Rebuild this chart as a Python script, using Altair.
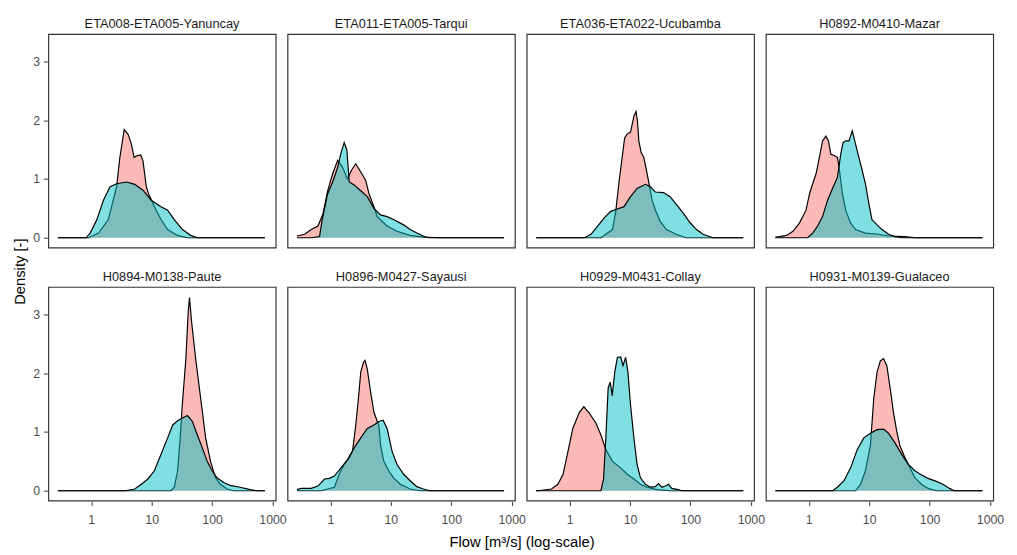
import altair as alt
import pandas as pd

PANELS = [
    "ETA008-ETA005-Yanuncay", "ETA011-ETA005-Tarqui", "ETA036-ETA022-Ucubamba",
    "H0892-M0410-Mazar", "H0894-M0138-Paute", "H0896-M0427-Sayausi",
    "H0929-M0431-Collay", "H0931-M0139-Gualaceo",
]
GROUPS = ["Series 1", "Series 2"]
COLORS = ["#F8766D", "#00BFC4"]

# common evaluation range of the densities (flow, m3/s)
FLOW_START = 0.28
FLOW_END = 750

# ---- series 1 (red) : flow values and densities per panel
RED_X = [
    [0.90, 1.32, 1.92, 2.63, 2.98, 3.51, 4.08, 4.63, 5.12, 5.81, 6.58, 7.19, 8.15, 8.90, 11.1, 14.3, 18.4, 26.9, 39.2],
    [0.375, 0.483, 0.621, 0.75, 0.90, 1.09, 1.32, 1.59, 1.92, 2.23, 2.63, 3.18, 3.83, 4.35, 5.25, 5.96, 8.67, 12.6, 20.9, 34.5, 64.8],
    [3.30, 3.98, 5.12, 5.81, 6.58, 8.15, 9.01, 10.2, 11.6, 12.6, 13.3, 14.0, 15.3, 16.9, 18.7, 21.1, 23.2, 26.4, 31.6, 40.0, 58.0, 85.0],
    [0.33, 0.43, 0.547, 0.70, 0.90, 1.03, 1.16, 1.32, 1.50, 1.69, 1.92, 2.12, 2.32, 2.63, 2.98, 3.18, 3.60, 4.08, 4.93, 5.96, 8.67, 14.3, 20.9, 39.2, 57.1],
    [20.9, 23.7, 26.9, 29.7, 32.4, 36.8, 40.2, 42.3, 45.5, 53.6, 64.8, 78.2, 94.4, 114, 138, 177, 227],
    [0.70, 1.16, 1.40, 1.69, 2.05, 2.32, 2.63, 2.87, 3.18, 3.51, 3.74, 4.08, 4.63, 5.25, 5.96, 6.34, 6.75, 7.65, 9.24, 11.1, 14.3, 20.9, 30.5],
    [0.30, 0.50, 0.64, 0.78, 0.94, 1.13, 1.46, 1.72, 2.12, 2.73, 3.30, 3.98, 5.12, 7.01, 9.01, 11.6, 14.9, 19.1, 27.9, 46.1],
    [5.96, 7.19, 8.67, 10.5, 11.9, 13.5, 15.3, 17.3, 19.6, 22.3, 25.2, 28.6, 32.4, 39.2, 47.3, 57.1, 73.4, 94.4, 129],
]
RED_Y = [
    [0, 0.08, 0.31, 0.87, 1.37, 1.84, 1.76, 1.59, 1.37, 1.40, 1.41, 1.31, 0.87, 0.75, 0.53, 0.31, 0.14, 0.04, 0],
    [0.06, 0.14, 0.20, 0.40, 0.80, 1.09, 1.32, 1.20, 1.00, 1.15, 1.26, 1.12, 0.98, 0.75, 0.53, 0.36, 0.20, 0.11, 0.04, 0.01, 0],
    [0, 0.06, 0.14, 0.45, 0.95, 1.70, 1.77, 1.80, 2.07, 2.15, 1.98, 1.65, 1.45, 1.37, 1.15, 0.87, 0.64, 0.47, 0.28, 0.14, 0.06, 0],
    [0.02, 0.04, 0.11, 0.25, 0.47, 0.75, 0.92, 1.09, 1.37, 1.65, 1.73, 1.65, 1.42, 1.40, 1.37, 1.20, 0.75, 0.47, 0.25, 0.14, 0.08, 0.06, 0.03, 0.02, 0],
    [0, 0.06, 0.34, 0.90, 1.51, 2.24, 3.03, 3.29, 2.91, 2.24, 1.57, 0.90, 0.50, 0.22, 0.11, 0.03, 0],
    [0, 0.06, 0.28, 0.45, 0.56, 0.67, 1.12, 1.51, 2.02, 2.18, 2.22, 2.07, 1.68, 1.34, 1.18, 1.12, 0.78, 0.50, 0.34, 0.22, 0.11, 0.03, 0],
    [0, 0.03, 0.11, 0.28, 0.67, 1.06, 1.34, 1.43, 1.32, 1.15, 0.95, 0.70, 0.50, 0.39, 0.28, 0.20, 0.11, 0.06, 0.02, 0],
    [0, 0.11, 0.34, 0.78, 1.57, 2.02, 2.21, 2.25, 2.13, 1.74, 1.34, 1.01, 0.76, 0.56, 0.39, 0.22, 0.11, 0.04, 0],
]

# ---- series 2 (cyan)
CYAN_X = [
    [0.82, 0.96, 1.24, 1.59, 2.05, 2.63, 3.83, 5.25, 7.19, 9.84, 14.3, 18.4, 23.7, 32.4, 44.4, 57.1],
    [0.483, 0.66, 0.73, 0.80, 0.90, 1.09, 1.32, 1.50, 1.69, 1.87, 2.05, 2.47, 3.18, 4.08, 5.25, 6.75, 8.67, 11.1, 16.3, 20.9, 26.9, 34.5, 41.7],
    [1.76, 2.26, 2.91, 3.74, 4.81, 6.18, 7.94, 10.2, 13.1, 18.0, 21.7, 26.2, 35.9, 46.1, 59.3, 76.2, 98, 126, 162, 236],
    [0.96, 1.16, 1.40, 1.69, 2.05, 2.47, 2.98, 3.38, 3.69, 4.08, 4.63, 5.25, 5.96, 6.75, 7.65, 8.67, 9.84, 11.1, 13.5, 16.3, 20.9, 26.9, 34.5],
    [3.6, 5.25, 6.75, 8.67, 11.1, 14.3, 18.4, 22.3, 26.9, 32.4, 39.2, 47.3, 57.1, 68.9, 83.2, 100, 121, 156, 200, 292, 427, 548],
    [0.33, 0.48, 0.62, 0.80, 0.96, 1.16, 1.50, 1.92, 2.47, 3.18, 4.08, 5.25, 6.34, 7.46, 8.67, 10.5, 12.6, 16.3, 20.9, 26.9, 34.5, 44.4],
    [3.30, 3.65, 3.98, 4.35, 4.70, 5.07, 5.59, 6.18, 7.01, 7.65, 8.46, 9.24, 10.2, 11.6, 13.1, 14.9, 18.0, 21.7, 26.2, 29.7, 33.7, 38.2, 43.4, 49.1, 63.1, 71.6],
    [2.47, 2.98, 3.83, 4.93, 6.34, 8.15, 10.5, 13.5, 17.3, 20.9, 26.9, 34.5, 44.4, 57.1, 73.4, 94.4, 129, 166, 214, 258],
]
CYAN_Y = [
    [0, 0.08, 0.31, 0.64, 0.87, 0.92, 0.95, 0.91, 0.81, 0.64, 0.53, 0.47, 0.31, 0.14, 0.04, 0],
    [0, 0.02, 0.30, 0.50, 0.75, 0.95, 1.20, 1.45, 1.62, 1.50, 0.95, 0.90, 0.80, 0.70, 0.50, 0.39, 0.36, 0.31, 0.22, 0.14, 0.08, 0.03, 0],
    [0, 0.06, 0.20, 0.34, 0.45, 0.49, 0.53, 0.70, 0.84, 0.91, 0.87, 0.78, 0.77, 0.70, 0.56, 0.42, 0.26, 0.14, 0.06, 0],
    [0, 0.08, 0.20, 0.36, 0.64, 0.84, 1.03, 1.42, 1.62, 1.65, 1.65, 1.82, 1.59, 1.37, 1.15, 0.92, 0.59, 0.31, 0.22, 0.14, 0.06, 0.02, 0],
    [0, 0.03, 0.11, 0.20, 0.34, 0.62, 0.90, 1.12, 1.19, 1.24, 1.28, 1.18, 0.95, 0.73, 0.50, 0.34, 0.22, 0.14, 0.09, 0.06, 0.02, 0],
    [0.04, 0.04, 0.08, 0.20, 0.21, 0.25, 0.39, 0.53, 0.73, 0.90, 1.06, 1.12, 1.18, 1.20, 1.06, 0.67, 0.45, 0.28, 0.17, 0.07, 0.03, 0],
    [0, 0.20, 0.90, 1.75, 1.85, 1.62, 2.02, 2.27, 2.28, 2.13, 2.27, 2.02, 1.46, 0.90, 0.45, 0.22, 0.11, 0.06, 0.07, 0.12, 0.06, 0.08, 0.11, 0.04, 0.02, 0],
    [0, 0.06, 0.17, 0.39, 0.70, 0.90, 0.98, 1.04, 1.05, 0.98, 0.81, 0.62, 0.45, 0.34, 0.27, 0.21, 0.16, 0.11, 0.04, 0],
]

rows = []
for p, name in enumerate(PANELS):
    for g, (xs, ys) in enumerate([(RED_X[p], RED_Y[p]), (CYAN_X[p], CYAN_Y[p])]):
        pts = list(zip(xs, ys))
        if pts[0][0] > FLOW_START:
            pts = [(FLOW_START, 0 if pts[0][1] == 0 else pts[0][1] * 0.5)] + pts
        pts = pts + [(FLOW_END, 0)]
        for fx, dy in pts:
            rows.append({"panel": name, "group": GROUPS[g], "flow": fx, "density": dy, "base": 0})
df = pd.DataFrame(rows)

FONT = "Liberation Sans"

x_enc = alt.X(
    "flow:Q",
    scale=alt.Scale(type="log", domain=[0.195, 1132], nice=False),
    axis=alt.Axis(values=[1, 10, 100, 1000], format="d", title=None, labelFlush=False,
                  labelOverlap=False, grid=False, domain=False, tickColor="#333333",
                  tickSize=4, labelFontSize=12.5, labelColor="#4d4d4d", labelFont=FONT,
                  labelPadding=8),
)
y_enc = alt.Y(
    "density:Q",
    scale=alt.Scale(domain=[-0.167, 3.47], nice=False, zero=False),
    axis=alt.Axis(values=[0, 1, 2, 3], title=None, grid=False, domain=False,
                  tickColor="#333333", tickSize=4, labelFontSize=12.5, labelColor="#4d4d4d",
                  labelFont=FONT, labelPadding=4),
)

layers = []
for g, col in zip(GROUPS, COLORS):
    base = alt.Chart().transform_filter(alt.datum.group == g)
    layers.append(base.mark_area(color=col, opacity=0.5, clip=True, interpolate="linear")
                  .encode(x=x_enc, y=y_enc, y2=alt.Y2("base:Q")))
    layers.append(base.mark_line(color="black", strokeWidth=1.2, clip=True)
                  .encode(x=x_enc, y=y_enc))

facet = alt.layer(*layers).properties(width=231, height=217).facet(
    facet=alt.Facet("panel:N", sort=PANELS,
                    header=alt.Header(title=None, labelFontSize=13, labelFont=FONT,
                                      labelColor="#1a1a1a", labelPadding=3)),
    columns=4,
    data=df,
    spacing={"row": 22, "column": 10},
).properties(
    title=alt.TitleParams("Density [-]", orient="left", anchor="middle", fontSize=15,
                          fontWeight="normal", font=FONT, color="#000000", offset=15, dy=10)
)

chart = alt.vconcat(facet, background="white").properties(
    title=alt.TitleParams("Flow [m³/s] (log-scale)", orient="bottom", anchor="middle",
                          fontSize=15, fontWeight="normal", font=FONT, color="#000000",
                          offset=10, dx=14)
).configure_view(stroke="#333333", strokeWidth=1.2)

chart.save("out.html", embed_options={"renderer": "svg", "actions": False})
